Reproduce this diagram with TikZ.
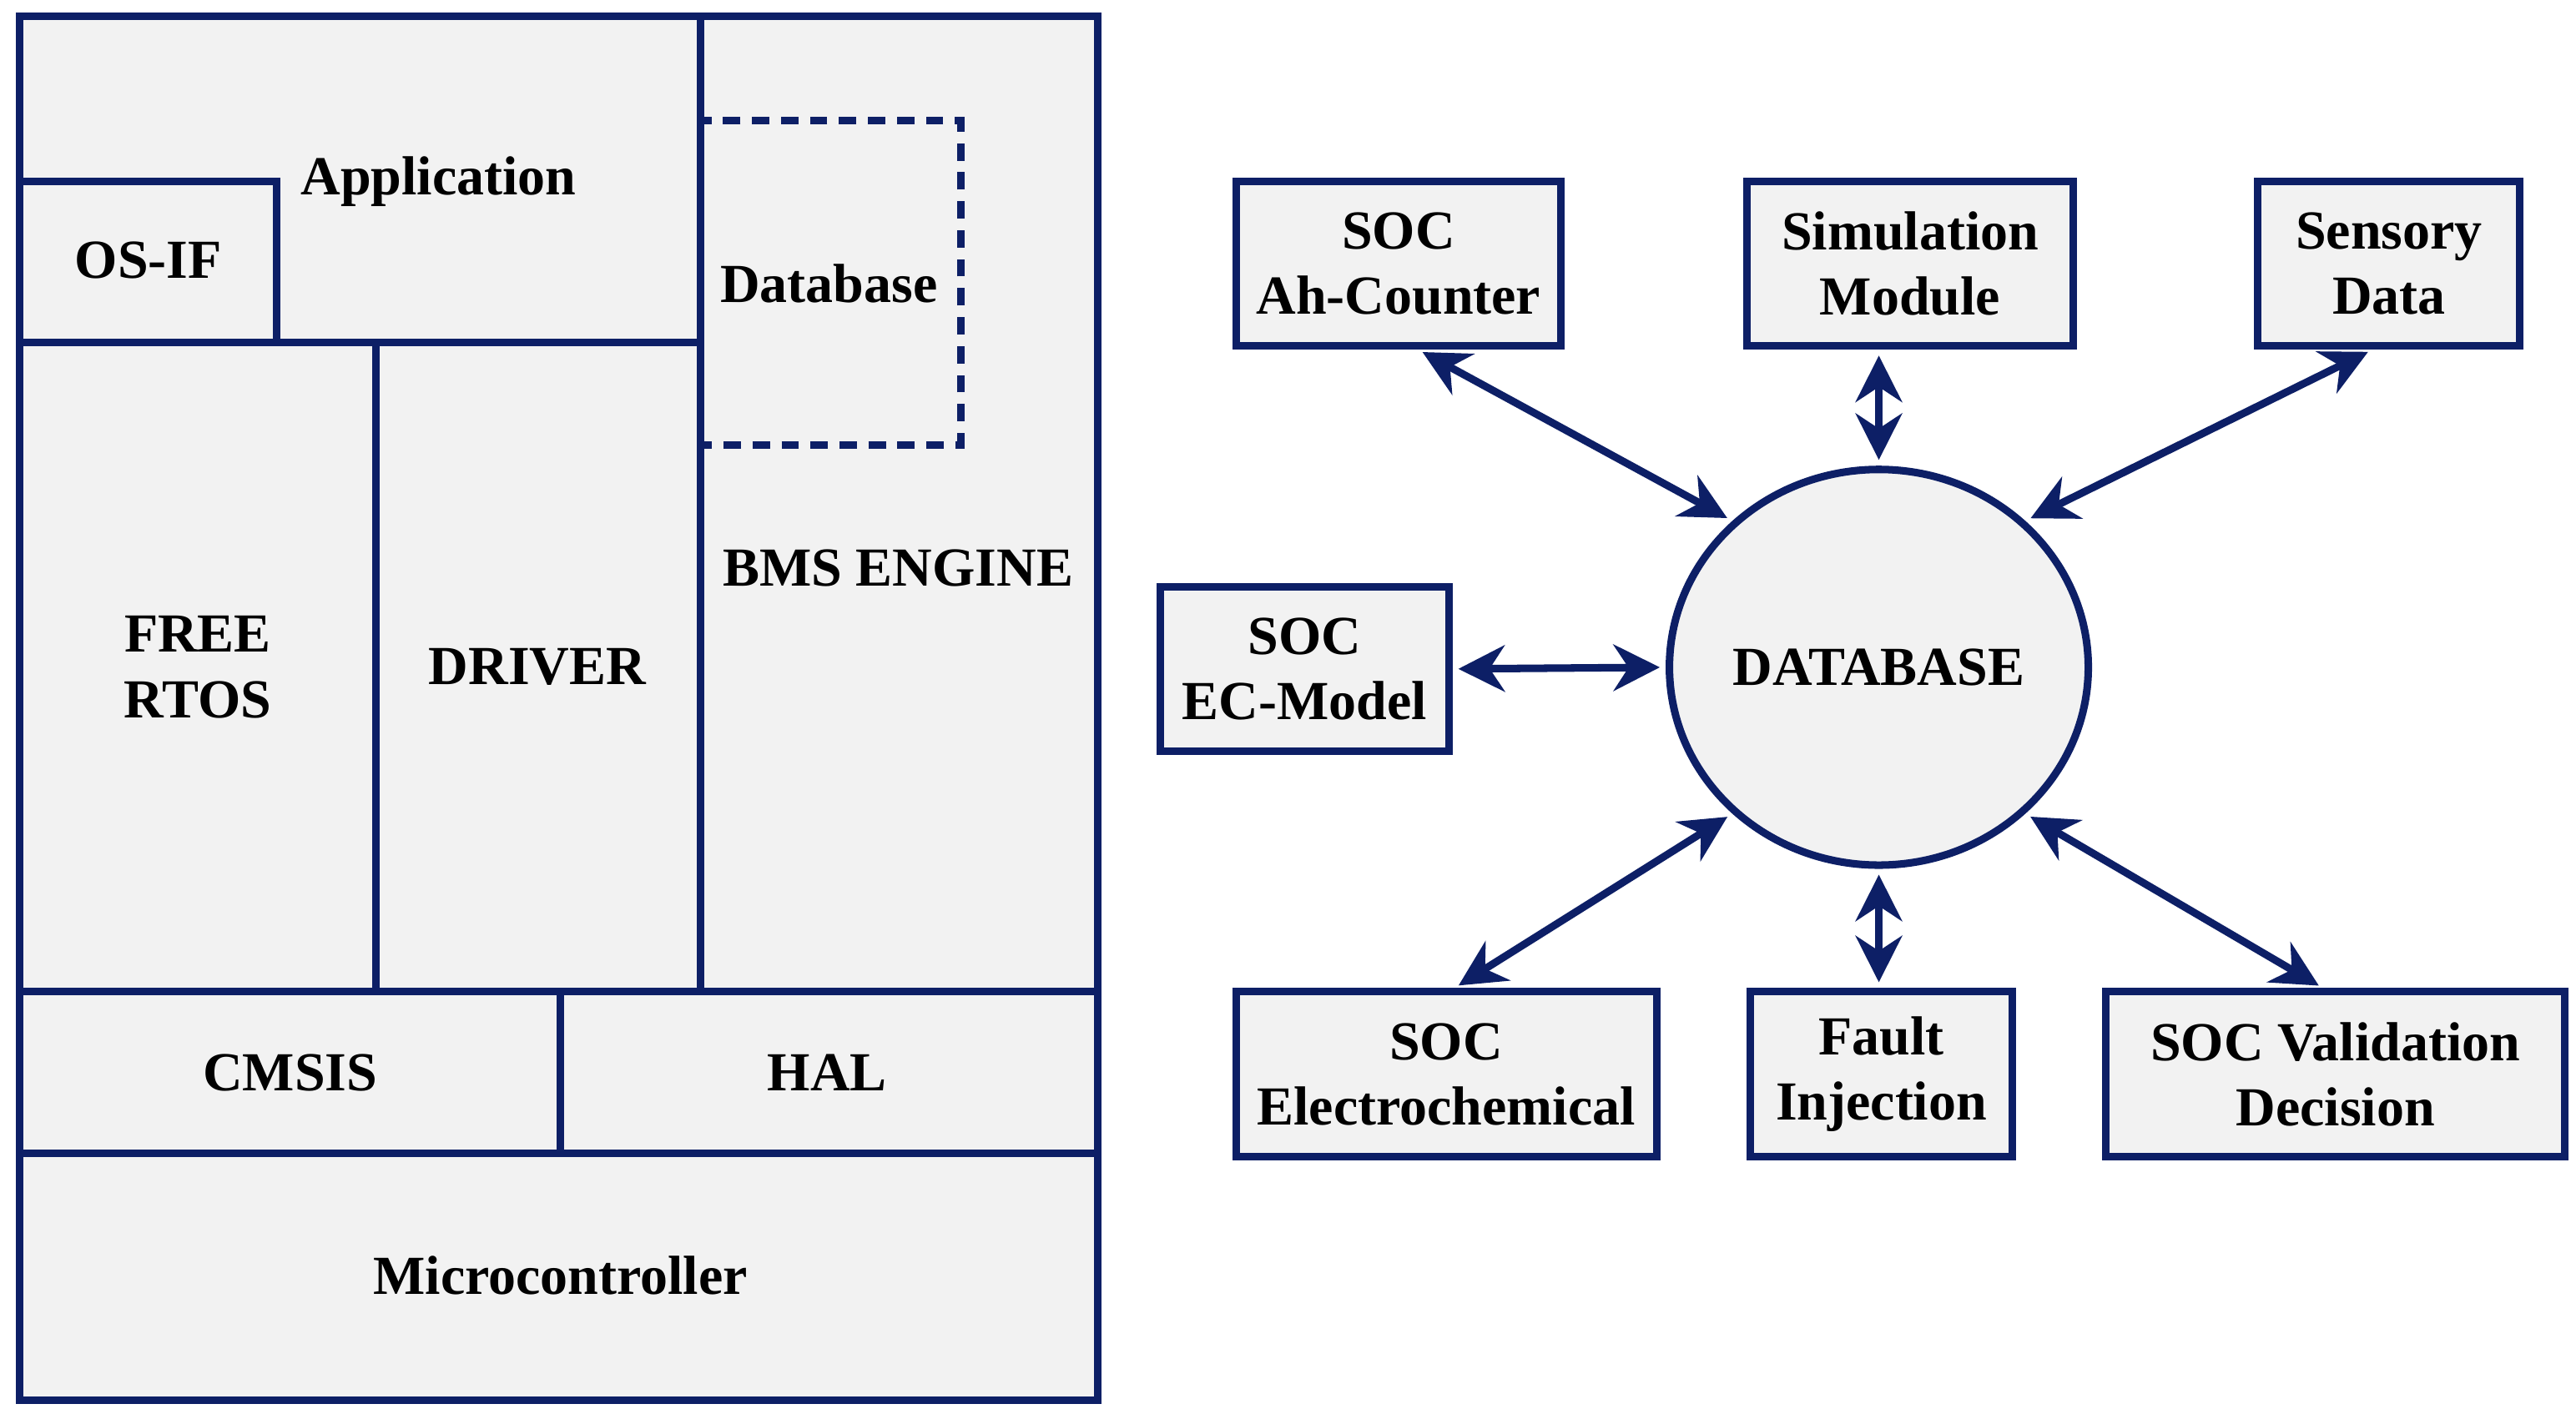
\documentclass[tikz,border=0pt]{standalone}
\usepackage{fontspec}
\setmainfont{Liberation Serif}
\usetikzlibrary{shapes.geometric,arrows.meta}
\definecolor{navy}{HTML}{0D1F66}
\definecolor{lg}{HTML}{F2F2F2}
\begin{document}
\begin{tikzpicture}[x=0.01cm,y=-0.01cm,
  ln/.style={draw=navy,line width=1.3pt},
  txt/.style={font=\fontsize{9.5}{11.3}\selectfont\bfseries,align=center,text=black},
  box/.style={ln,fill=lg,inner sep=0pt},
  arr/.style={navy,line width=1.3pt,{Stealth[length=8pt,width=8pt]}-{Stealth[length=8pt,width=8pt]},shorten <=1pt,shorten >=1pt}]
\useasboundingbox (0,0) rectangle (1563,858);
% left stack
\draw[ln,fill=lg] (12,10) rectangle (666,850);
\draw[ln] (425,10) -- (425,602);
\draw[ln] (12,208) -- (425,208);
\draw[ln] (12,110) -- (168,110) -- (168,208);
\draw[ln,dash pattern=on 3pt off 2pt] (425,73) rectangle (583,270);
\draw[ln] (228,208) -- (228,602);
\draw[ln] (12,602) -- (666,602);
\draw[ln] (340,602) -- (340,700);
\draw[ln] (12,700) -- (666,700);
\node[txt] (app) at (266,110) {Application};
\node[txt] (osif) at (90,158) {OS-IF};
\node[txt] (dbl) at (503,172) {Database};
\node[txt] (rtos) at (120,405) {FREE\\RTOS};
\node[txt] (drv) at (326,405) {DRIVER};
\node[txt] (bms) at (545,345) {BMS ENGINE};
\node[txt] (cmsis) at (176,651) {CMSIS};
\node[txt] (hal) at (502,651) {HAL};
\node[txt] (mcu) at (340,774) {Microcontroller};
% right
\node[box,ellipse,minimum width=2.54cm,minimum height=2.4cm,txt] (db) at (1140,405) {DATABASE};
\node[box,txt,minimum width=1.97cm,minimum height=1.0cm] (ah) at (848.5,160) {SOC\\Ah-Counter};
\node[box,txt,minimum width=1.98cm,minimum height=1.0cm] (sim) at (1159,160) {Simulation\\Module};
\node[box,txt,minimum width=1.59cm,minimum height=1.0cm] (sen) at (1449.5,160) {Sensory\\Data};
\node[box,txt,minimum width=1.75cm,minimum height=1.0cm] (ec) at (791.5,406) {SOC\\EC-Model};
\node[box,txt,minimum width=2.55cm,minimum height=1.0cm] (el) at (877.5,652) {SOC\\Electrochemical};
\node[box,txt,minimum width=1.59cm,minimum height=1.0cm] (fi) at (1141.5,652) {Fault\\Injection};
\node[box,txt,minimum width=2.78cm,minimum height=1.0cm] (val) at (1417,652) {SOC Validation\\Decision};
\coordinate (ahs) at (860,212);
\coordinate (sens) at (1440,212);
\coordinate (els) at (882,600);
\coordinate (vals) at (1410,600);
\draw[arr] (ahs) -- (db.135);
\draw[arr] (sim.south-|db.north) -- (db.north);
\draw[arr] (sens) -- (db.45);
\draw[arr] (ec.east) -- (db.west);
\draw[arr] (els) -- (db.225);
\draw[arr] (fi.north-|db.south) -- (db.south);
\draw[arr] (vals) -- (db.315);
\end{tikzpicture}
\end{document}
